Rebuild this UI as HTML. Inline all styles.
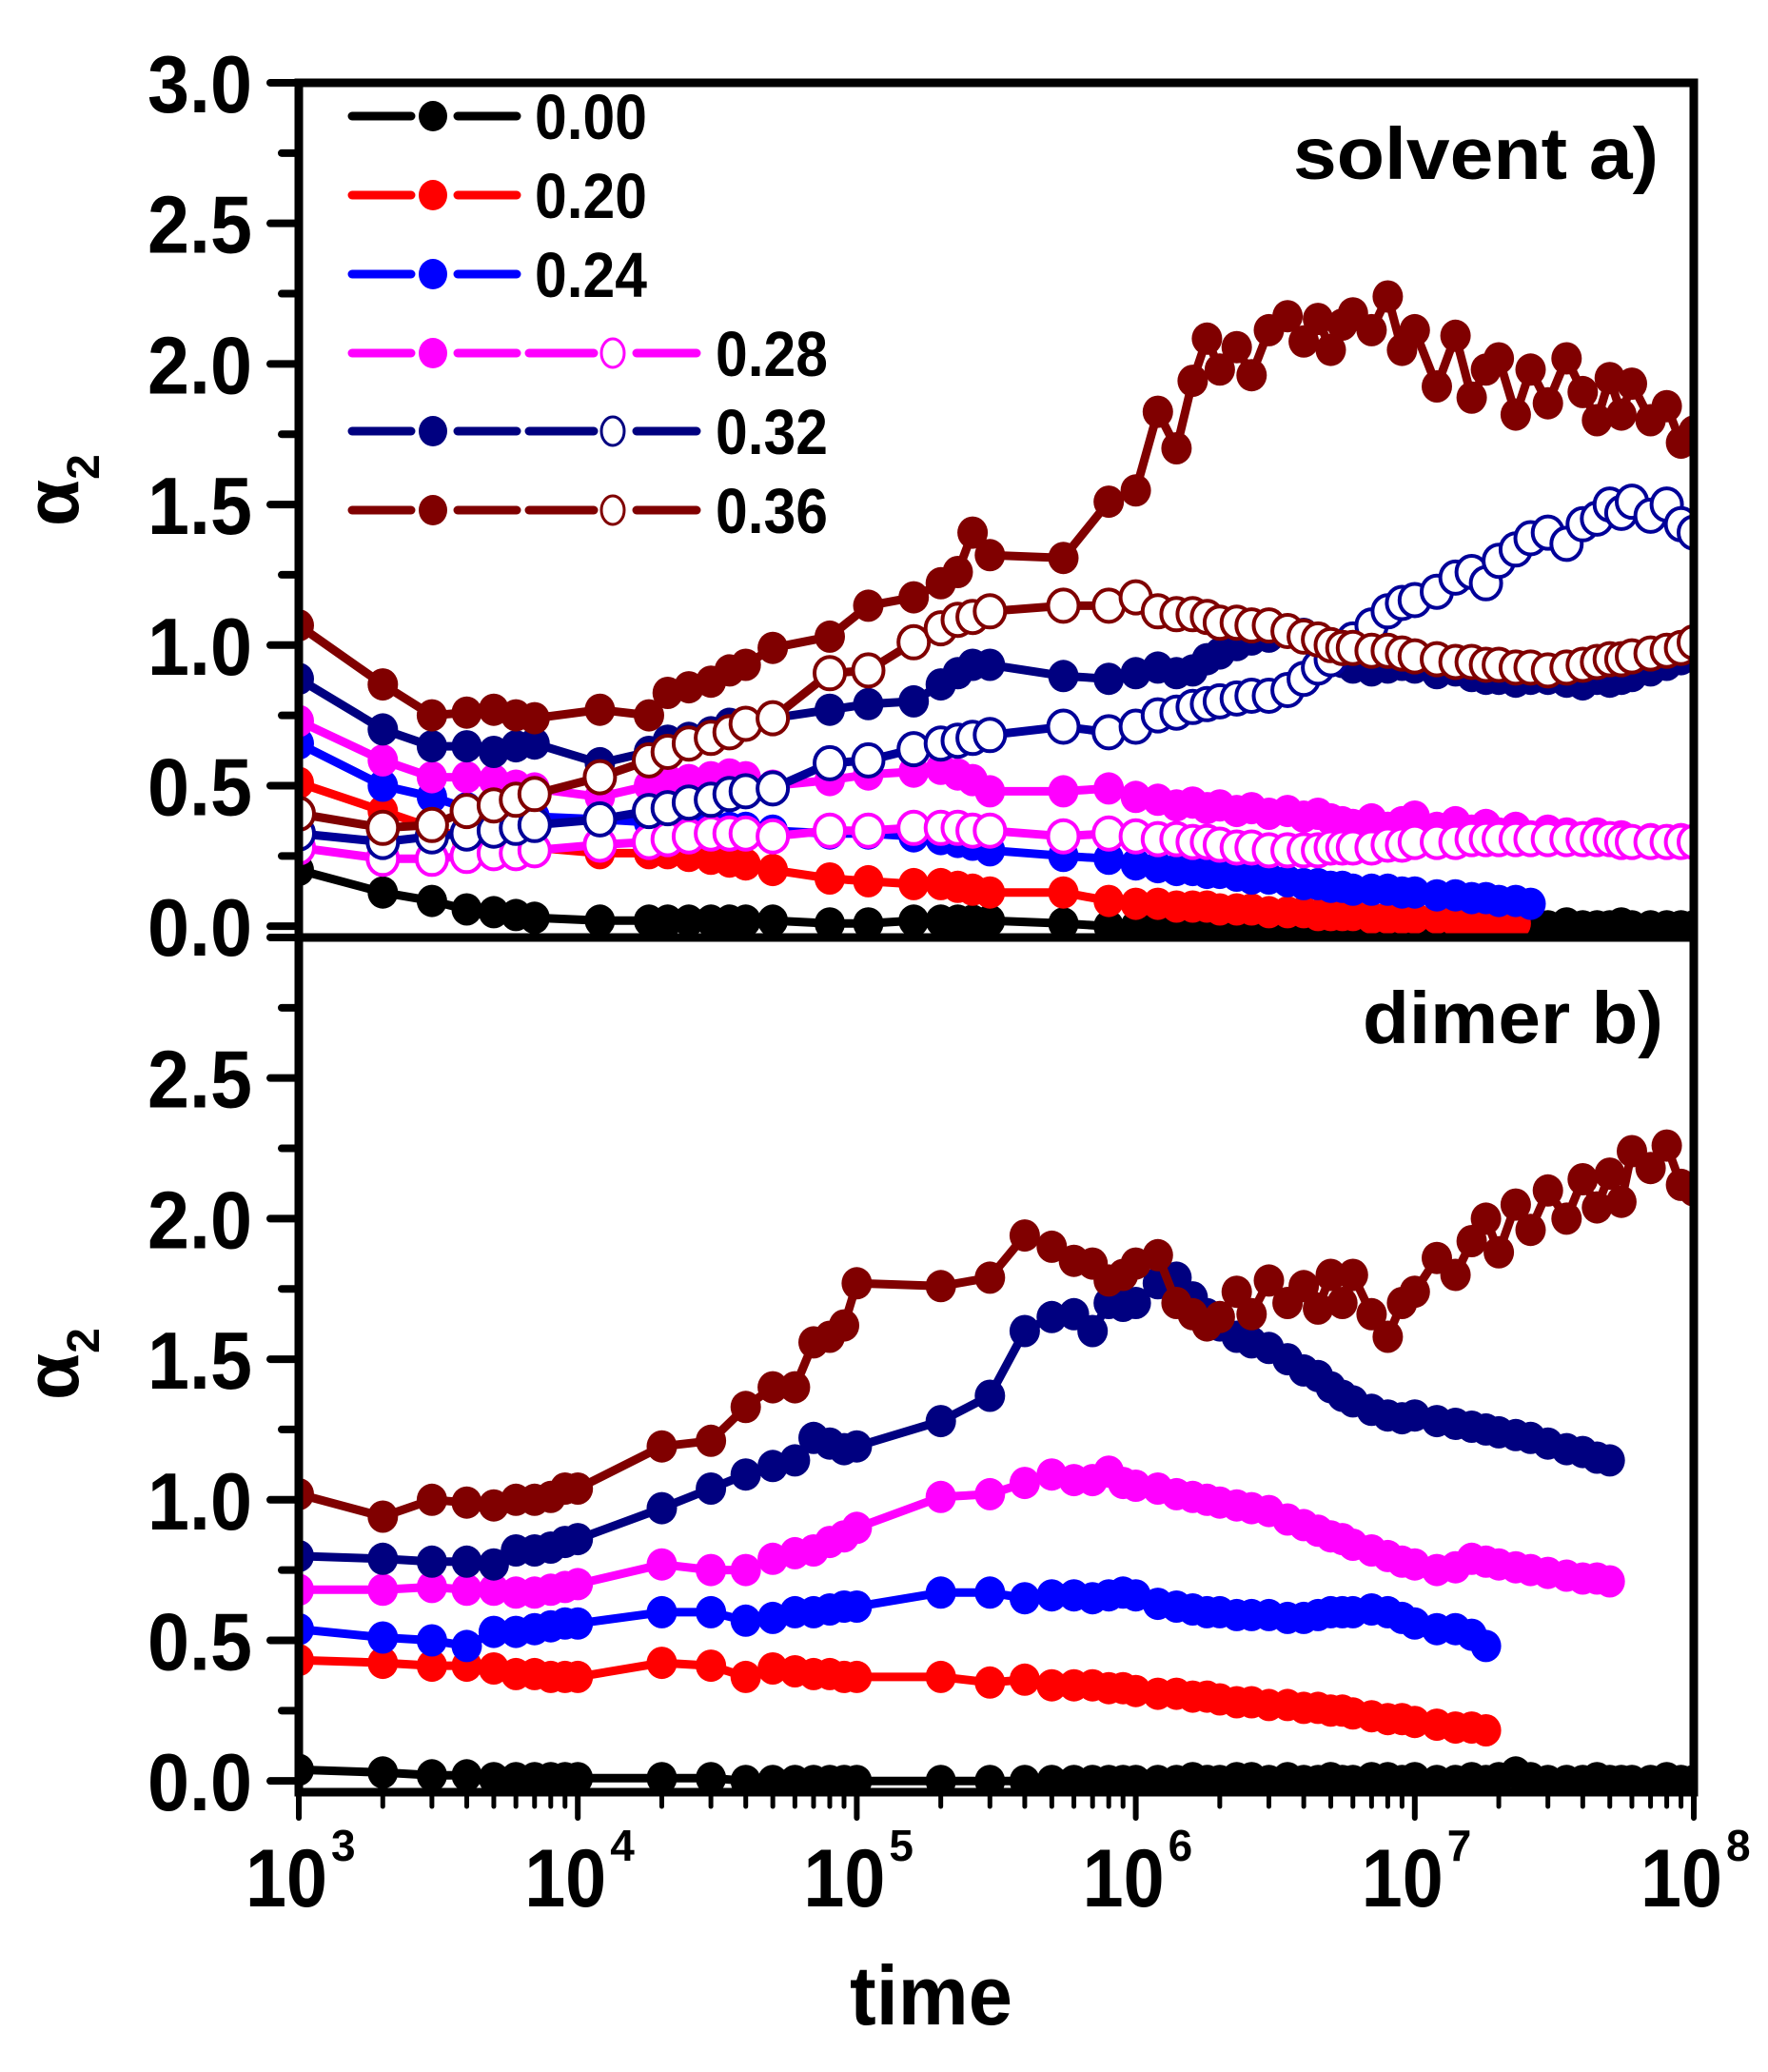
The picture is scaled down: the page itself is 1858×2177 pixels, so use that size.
<!DOCTYPE html>
<html><head><meta charset="utf-8">
<style>
html,body{margin:0;padding:0;background:#fff;}
svg{display:block;font-family:"Liberation Sans",Arial,sans-serif;font-weight:bold;}
</style></head>
<body>
<svg id="chart" width="1858" height="2177" viewBox="0 0 1858 2177" xmlns="http://www.w3.org/2000/svg">
<defs>
<clipPath id="clipTop"><rect x="314" y="87" width="1466" height="898"/></clipPath>
<clipPath id="clipBot"><rect x="314" y="985" width="1466" height="898"/></clipPath>
</defs>
<g id="axes"></g>
<g id="topData" clip-path="url(#clipTop)"></g>
<g id="botData" clip-path="url(#clipBot)"></g>
<rect x="314" y="87" width="1466" height="898" fill="none" stroke="#000" stroke-width="9"/>
<rect x="314" y="985" width="1466" height="898" fill="none" stroke="#000" stroke-width="9"/>
<text x="1359" y="188" font-size="77" textLength="384" lengthAdjust="spacingAndGlyphs">solvent a)</text>
<text x="1432" y="1096" font-size="77" textLength="316" lengthAdjust="spacingAndGlyphs">dimer b)</text>
<text x="893" y="2127" font-size="88" textLength="171" lengthAdjust="spacingAndGlyphs">time</text>
<text transform="translate(82,553) rotate(-90)" font-size="80">α<tspan font-size="48" dy="22">2</tspan></text>
<text transform="translate(82,1471) rotate(-90)" font-size="80">α<tspan font-size="48" dy="22">2</tspan></text>
<g id="legend"></g>
</svg>
<script>
// ---- data ----
const topTimes = [1e3,2e3,3e3,4e3,5e3,6e3,7e3,1.2e4,1.8e4,2.1e4,2.5e4,3e4,3.5e4,4e4,5e4,8e4,1.1e5,1.6e5,2e5,2.3e5,2.6e5,3e5,5.5e5,8e5,1e6,
 1.2e6,1.4e6,1.6e6,1.8e6,2e6,2.3e6,2.6e6,3e6,3.5e6,4e6,4.5e6,5e6,5.5e6,6e6,7e6,8e6,9e6,1e7,1.2e7,1.4e7,1.6e7,1.8e7,2e7,2.3e7,2.6e7,3e7,3.5e7,4e7,4.5e7,5e7,5.5e7,6e7,7e7,8e7,9e7,1e8];
const botTimes = [1e3,2e3,3e3,4e3,5e3,6e3,7e3,8e3,9e3,1e4,2e4,3e4,4e4,5e4,6e4,7e4,8e4,9e4,1e5,2e5,3e5,4e5,5e5,6e5,7e5,8e5,9e5,1e6,
 1.2e6,1.4e6,1.6e6,1.8e6,2e6,2.3e6,2.6e6,3e6,3.5e6,4e6,4.5e6,5e6,5.5e6,6e6,7e6,8e6,9e6,1e7,1.2e7,1.4e7,1.6e7,1.8e7,2e7,2.3e7,2.6e7,3e7,3.5e7,4e7,4.5e7,5e7,5.5e7,6e7,7e7,8e7,9e7,1e8];
const N = null;
const top00 = [0.20,0.12,0.09,0.06,0.05,0.04,0.03,0.02,0.02,0.02,0.02,0.02,0.02,0.02,0.02,0.01,0.01,0.02,0.02,0.02,0.02,0.02,0.01,0.00,0.00,
 0.00,0.01,0.00,0.00,0.01,0.00,0.00,0.01,0.00,0.00,0.00,0.01,0.00,0.00,0.00,0.01,0.00,0.00,0.01,0.00,0.00,0.00,0.01,0.00,0.00,0.00,0.01,0.00,0.00,0.00,0.01,0.00,0.00,0.00,0.00,0.00];
const top20 = [0.51,0.41,0.35,0.31,0.30,0.29,0.28,0.26,0.26,0.26,0.25,0.24,0.23,0.22,0.20,0.17,0.16,0.15,0.15,0.14,0.13,0.12,0.12,0.09,0.08,
 0.08,0.07,0.07,0.07,0.06,0.06,0.06,0.05,0.05,0.05,0.04,0.04,0.04,0.04,0.03,0.03,0.03,0.03,0.03,0.02,0.02,0.02,0.02,0.01,N,N,N,N,N,N,N,N,N,N,N,N];
const top24 = [0.65,0.50,0.46,0.42,0.41,0.40,0.39,0.38,0.37,0.37,0.36,0.36,0.35,0.35,0.34,0.33,0.33,0.32,0.31,0.30,0.29,0.27,0.25,0.24,0.22,
 0.21,0.20,0.20,0.19,0.19,0.18,0.17,0.17,0.16,0.15,0.15,0.14,0.14,0.13,0.13,0.13,0.12,0.12,0.11,0.11,0.10,0.10,0.09,0.09,0.08,N,N,N,N,N,N,N,N,N,N,N];
const top28f = [0.73,0.59,0.53,0.53,0.52,0.50,0.49,0.46,0.50,0.52,0.52,0.53,0.54,0.53,0.50,0.52,0.54,0.55,0.56,0.54,0.52,0.48,0.48,0.49,0.46,
 0.45,0.43,0.44,0.42,0.43,0.41,0.42,0.40,0.41,0.39,0.40,0.38,0.37,0.36,0.38,0.35,0.37,0.39,0.35,0.37,0.34,0.36,0.33,0.35,0.32,0.34,0.33,0.31,0.33,0.31,0.32,0.30,0.31,0.30,0.31,0.30];
const top28o = [0.28,0.24,0.24,0.25,0.26,0.26,0.27,0.29,0.30,0.31,0.32,0.33,0.33,0.33,0.32,0.34,0.34,0.35,0.35,0.35,0.34,0.34,0.32,0.33,0.32,
 0.31,0.31,0.30,0.30,0.29,0.28,0.28,0.27,0.27,0.27,0.27,0.28,0.28,0.28,0.28,0.29,0.29,0.30,0.30,0.30,0.31,0.31,0.31,0.31,0.31,0.31,0.31,0.31,0.31,0.31,0.30,0.30,0.30,0.30,0.30,0.30];
const top32f = [0.88,0.70,0.64,0.64,0.62,0.64,0.65,0.58,0.62,0.66,0.67,0.69,0.72,0.72,0.74,0.77,0.79,0.80,0.86,0.90,0.93,0.93,0.89,0.88,0.90,
 0.92,0.90,0.91,0.95,0.97,1.00,1.02,1.03,1.05,1.04,1.00,0.97,0.94,0.92,0.91,0.92,0.93,0.92,0.90,0.91,0.89,0.88,0.88,0.87,0.88,0.88,0.87,0.86,0.88,0.87,0.88,0.89,0.91,0.93,0.95,0.98];
const top32o = [0.33,0.30,0.32,0.33,0.34,0.35,0.36,0.38,0.41,0.42,0.44,0.45,0.47,0.48,0.49,0.58,0.59,0.63,0.65,0.66,0.67,0.68,0.71,0.69,0.71,
 0.75,0.76,0.78,0.79,0.80,0.81,0.82,0.82,0.84,0.88,0.92,0.95,0.99,1.02,1.07,1.12,1.15,1.16,1.19,1.24,1.26,1.22,1.30,1.34,1.38,1.40,1.36,1.43,1.45,1.50,1.47,1.51,1.46,1.50,1.43,1.40];
const top36f = [1.07,0.86,0.75,0.76,0.77,0.75,0.74,0.77,0.75,0.83,0.85,0.87,0.91,0.93,0.99,1.03,1.14,1.17,1.22,1.26,1.40,1.32,1.31,1.51,1.55,
 1.83,1.70,1.94,2.09,1.98,2.06,1.96,2.12,2.17,2.08,2.16,2.05,2.14,2.18,2.12,2.24,2.05,2.12,1.92,2.10,1.88,1.98,2.02,1.82,1.98,1.86,2.02,1.90,1.80,1.95,1.82,1.93,1.80,1.85,1.72,1.76];
const top36o = [0.40,0.35,0.36,0.41,0.43,0.45,0.47,0.53,0.59,0.62,0.65,0.67,0.69,0.72,0.74,0.90,0.91,1.01,1.06,1.09,1.10,1.12,1.14,1.14,1.17,
 1.12,1.11,1.11,1.10,1.08,1.08,1.07,1.07,1.05,1.03,1.02,1.00,0.99,0.99,0.98,0.98,0.97,0.96,0.95,0.94,0.94,0.93,0.93,0.92,0.92,0.91,0.92,0.93,0.94,0.95,0.95,0.96,0.97,0.98,0.99,1.01];

const bot00 = [0.04,0.03,0.02,0.02,0.01,0.01,0.01,0.01,0.01,0.01,0.01,0.01,0.00,0.00,0.00,0.00,0.00,0.00,0.00,0.00,0.00,0.00,0.00,0.00,0.00,0.00,0.00,0.00,
 0.00,0.00,0.01,0.00,0.00,0.01,0.01,0.00,0.01,0.00,0.00,0.01,0.00,0.00,0.01,0.01,0.00,0.01,0.00,0.00,0.01,0.00,0.01,0.03,0.01,0.00,0.00,0.00,0.01,0.00,0.00,0.00,0.00,0.01,0.00,0.00];
const bot20 = [0.43,0.42,0.41,0.41,0.40,0.38,0.38,0.37,0.37,0.37,0.42,0.41,0.37,0.40,0.39,0.38,0.38,0.37,0.37,0.37,0.35,0.36,0.34,0.34,0.34,0.33,0.33,0.32,
 0.31,0.31,0.30,0.30,0.29,0.28,0.28,0.27,0.27,0.26,0.26,0.25,0.25,0.24,0.23,0.22,0.22,0.21,0.20,0.19,0.19,0.18,N,N,N,N,N,N,N,N,N,N,N,N,N,N];
const bot24 = [0.54,0.51,0.50,0.48,0.53,0.53,0.54,0.55,0.56,0.56,0.60,0.60,0.57,0.58,0.60,0.60,0.61,0.62,0.62,0.67,0.67,0.65,0.66,0.66,0.65,0.66,0.67,0.66,
 0.63,0.62,0.61,0.60,0.60,0.59,0.59,0.59,0.58,0.58,0.59,0.60,0.60,0.60,0.61,0.60,0.58,0.56,0.54,0.54,0.52,0.48,N,N,N,N,N,N,N,N,N,N,N,N,N,N];
const bot28 = [0.68,0.68,0.69,0.68,0.68,0.67,0.67,0.68,0.69,0.70,0.77,0.75,0.75,0.79,0.81,0.82,0.85,0.87,0.90,1.01,1.02,1.06,1.09,1.07,1.07,1.10,1.06,1.05,
 1.04,1.02,1.01,1.00,0.99,0.98,0.97,0.96,0.93,0.91,0.89,0.87,0.86,0.84,0.82,0.80,0.78,0.77,0.75,0.76,0.79,0.78,0.77,0.76,0.75,0.74,0.73,0.72,0.72,0.71,N,N,N,N,N,N];
const bot32 = [0.80,0.79,0.78,0.78,0.77,0.82,0.82,0.83,0.85,0.86,0.97,1.04,1.09,1.12,1.14,1.22,1.20,1.18,1.19,1.28,1.37,1.60,1.65,1.66,1.60,1.70,1.69,1.70,
 1.77,1.79,1.72,1.66,1.62,1.58,1.56,1.54,1.50,1.46,1.44,1.40,1.37,1.35,1.32,1.30,1.29,1.30,1.28,1.27,1.26,1.25,1.24,1.23,1.22,1.20,1.18,1.17,1.15,1.14,N,N,N,N,N,N];
const bot36 = [1.02,0.94,1.00,0.99,0.98,1.00,1.00,1.01,1.04,1.04,1.19,1.21,1.33,1.40,1.40,1.56,1.58,1.62,1.77,1.76,1.79,1.94,1.90,1.85,1.84,1.78,1.80,1.84,
 1.87,1.70,1.66,1.62,1.65,1.74,1.66,1.78,1.70,1.76,1.68,1.80,1.70,1.80,1.66,1.58,1.70,1.74,1.86,1.80,1.92,2.00,1.88,2.05,1.96,2.10,2.00,2.14,2.04,2.16,2.06,2.24,2.18,2.26,2.12,2.10];

const yTickLabelsTop = ["0.0","0.5","1.0","1.5","2.0","2.5","3.0"];
const yTickLabelsBot = ["0.0","0.5","1.0","1.5","2.0","2.5"];
const xExponents = [3,4,5,6,7,8];
const legendLabels = ["0.00","0.20","0.24","0.28","0.32","0.36"];

// ---- axis functions ----
const NS = "http://www.w3.org/2000/svg";
const X0 = 314, X1 = 1780;
function xs(t){ return X0 + (Math.log10(t) - 3) / 5 * (X1 - X0); }
const PPU = 295.4;
function yTop(v){ return 985 - (v + 0.04) * PPU; }
function yBot(v){ return 1883 - (v + 0.04) * PPU; }
function mk(tag, attrs, parent){
  const e = document.createElementNS(NS, tag);
  for (const k in attrs) e.setAttribute(k, attrs[k]);
  parent.appendChild(e);
  return e;
}

function drawSeries(g, times, vals, yf, color, open, name){
  const grp = mk("g", {}, g);
  
  
  let pts = [];
  for (let i = 0; i < times.length; i++) if (vals[i] !== null) pts.push([xs(times[i]), yf(vals[i])]);
  const line = mk("polyline", {points: pts.map(p => p[0].toFixed(1)+","+p[1].toFixed(1)).join(" "), fill:"none", stroke:color, "stroke-width":9, "stroke-linejoin":"round", "stroke-linecap":"round"}, grp);
  
  
  pts.forEach(p => {
    const c = mk("ellipse", {cx:p[0].toFixed(1), cy:p[1].toFixed(1), rx:16, ry:17, fill: open ? "#fff" : color, stroke: color, "stroke-width": open ? 4 : 0}, grp);
    
    
  });
}

const tg = document.getElementById("topData");
drawSeries(tg, topTimes, top00, yTop, "#000000", false, "series-0.00-solvent");
drawSeries(tg, topTimes, top20, yTop, "#ff0000", false, "series-0.20-solvent");
drawSeries(tg, topTimes, top24, yTop, "#0000ff", false, "series-0.24-solvent");
drawSeries(tg, topTimes, top28f, yTop, "#ff00ff", false, "series-0.28-solvent-filled");
drawSeries(tg, topTimes, top28o, yTop, "#ff00ff", true, "series-0.28-solvent-open");
drawSeries(tg, topTimes, top32f, yTop, "#000080", false, "series-0.32-solvent-filled");
drawSeries(tg, topTimes, top32o, yTop, "#000099", true, "series-0.32-solvent-open");
drawSeries(tg, topTimes, top36f, yTop, "#800000", false, "series-0.36-solvent-filled");
drawSeries(tg, topTimes, top36o, yTop, "#800000", true, "series-0.36-solvent-open");

const bg = document.getElementById("botData");
drawSeries(bg, botTimes, bot00, yBot, "#000000", false, "series-0.00-dimer");
drawSeries(bg, botTimes, bot20, yBot, "#ff0000", false, "series-0.20-dimer");
drawSeries(bg, botTimes, bot24, yBot, "#0000ff", false, "series-0.24-dimer");
drawSeries(bg, botTimes, bot28, yBot, "#ff00ff", false, "series-0.28-dimer");
drawSeries(bg, botTimes, bot32, yBot, "#000080", false, "series-0.32-dimer");
drawSeries(bg, botTimes, bot36, yBot, "#800000", false, "series-0.36-dimer");

// ---- axes ----
const ax = document.getElementById("axes");
function yAxis(yf, labels, name){
  for (let k = 0; k <= 12; k++){
    const v = k * 0.25, y = yf(v), major = (k % 2 === 0);
    const t = mk("line", {x1: major ? 284 : 296, x2: 314, y1: y, y2: y, stroke:"#000", "stroke-width":8, "stroke-linecap":"round"}, ax);
    
    
  }
  labels.forEach((lab, i) => {
    const v = parseFloat(lab);
    const t = mk("text", {x:155, y:(yf(v) + 31).toFixed(1), "font-size":85, textLength:110, lengthAdjust:"spacingAndGlyphs"}, ax);
    t.textContent = lab;
    
    
  });
}
yAxis(yTop, yTickLabelsTop, "y-axis-top");
yAxis(yBot, yTickLabelsBot, "y-axis-bottom");

xExponents.forEach((e, i) => {
  const x = xs(Math.pow(10, e));
  const t = mk("line", {x1:x, x2:x, y1:1883, y2:1910, stroke:"#000", "stroke-width":6, "stroke-linecap":"round"}, ax);
  
  
  if (i < xExponents.length - 1){
    for (let m = 2; m <= 9; m++){
      const xm = xs(m * Math.pow(10, e));
      const tm = mk("line", {x1:xm, x2:xm, y1:1883, y2:1898, stroke:"#000", "stroke-width":5, "stroke-linecap":"round"}, ax);
      
      
    }
  }
  const lab = mk("text", {x:(x - 56).toFixed(1), y:2003, "font-size":86, textLength:86, lengthAdjust:"spacingAndGlyphs"}, ax);
  lab.textContent = "10";
  
  
  const sup = mk("text", {x:(x + 34).toFixed(1), y:1955, "font-size":46}, ax);
  sup.textContent = String(e);
  
  
});

// ---- legend ----
const lg = document.getElementById("legend");
const legColors = ["#000000","#ff0000","#0000ff","#ff00ff","#000080","#800000"];
const legRowY = [122, 205, 288, 371, 453, 536];
legendLabels.forEach((lab, i) => {
  const y = legRowY[i], c = legColors[i], long = i >= 3;
  const g = mk("g", {}, lg);
  
  
  const segs = long ? [[370,432],[481,543],[556,624],[669,732]] : [[370,432],[481,543]];
  segs.forEach(s => mk("line", {x1:s[0], x2:s[1], y1:y, y2:y, stroke:c, "stroke-width":9, "stroke-linecap":"round"}, g));
  mk("ellipse", {cx:455, cy:y, rx:15, ry:16, fill:c}, g);
  if (long) mk("ellipse", {cx:644, cy:y, rx:12, ry:15, fill:"#fff", stroke:c, "stroke-width":3}, g);
  const t = mk("text", {x: long ? 752 : 562, y: y + 24, "font-size":67, textLength:118, lengthAdjust:"spacingAndGlyphs"}, g);
  t.textContent = lab;
});
</script>
</body></html>
